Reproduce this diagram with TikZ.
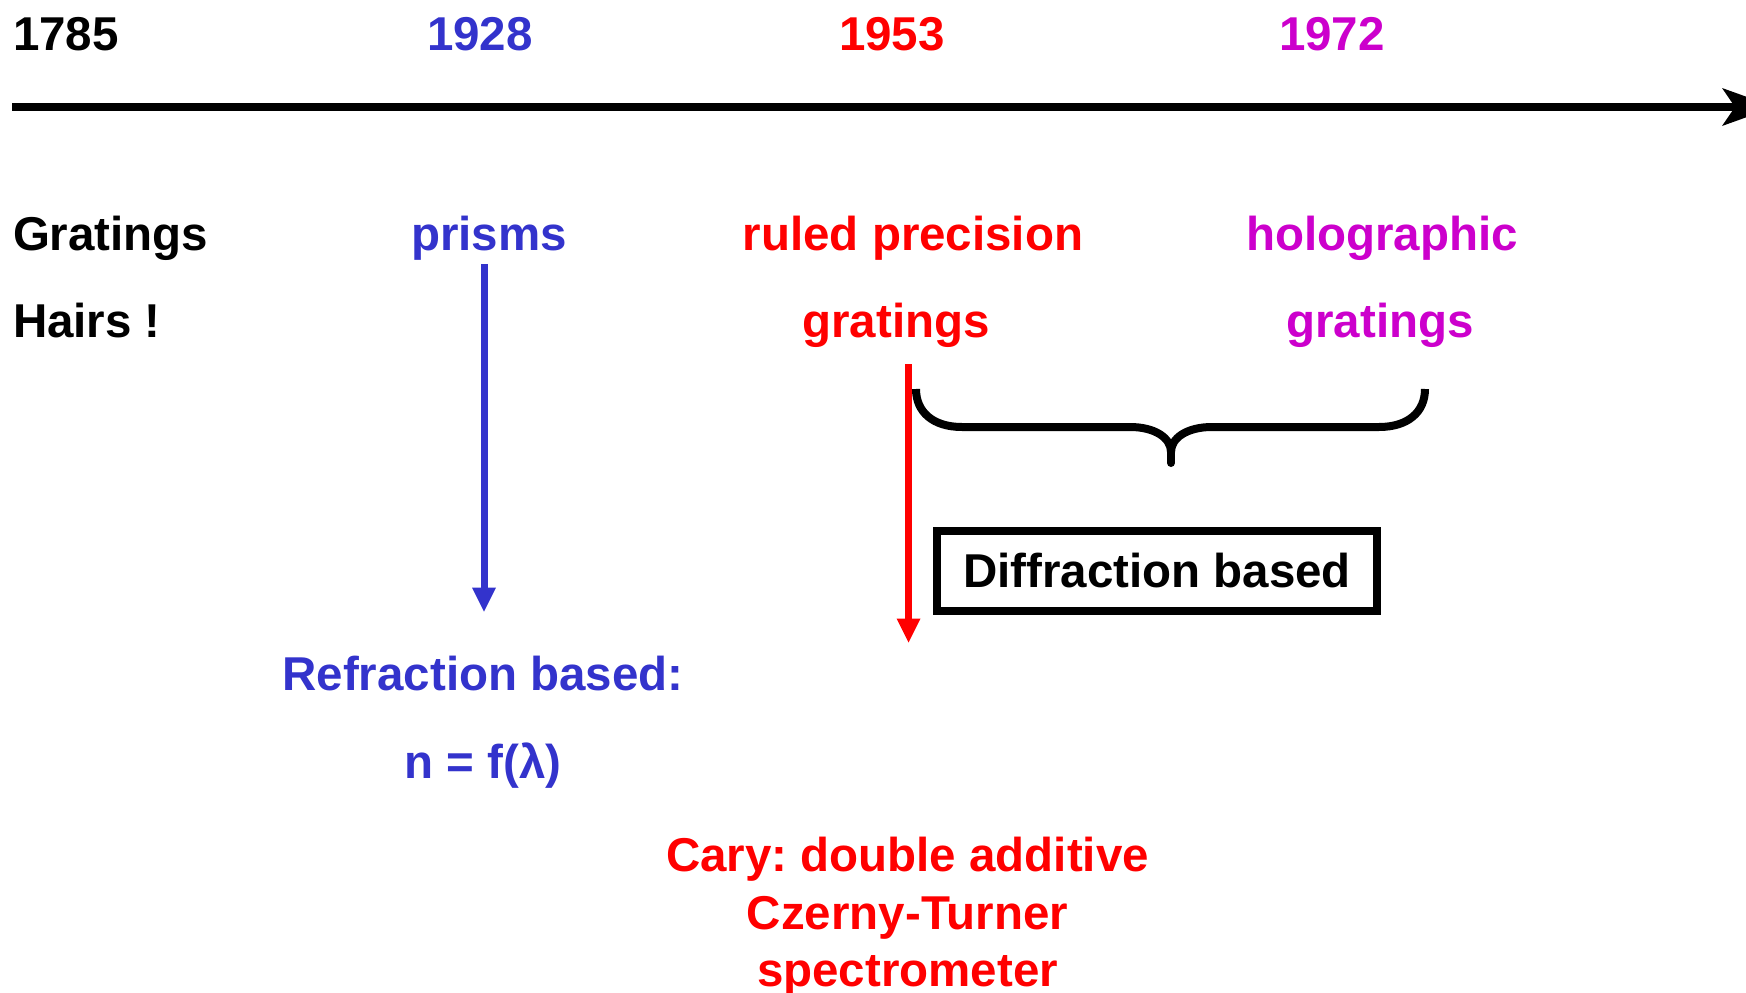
\documentclass[tikz,border=0pt]{standalone}
\usepackage{fontspec}
\setmainfont{Liberation Sans}
\usetikzlibrary{arrows.meta}
\definecolor{cblue}{RGB}{51,51,204}
\definecolor{cred}{RGB}{255,0,0}
\definecolor{cmag}{RGB}{204,0,204}
\frenchspacing
\begin{document}
\begin{tikzpicture}[x=1pt,y=-1pt,
  lbl/.style={font=\fontsize{47.5}{57}\selectfont\bfseries, inner sep=0pt, outer sep=0pt},
  axisline/.style={line width=8pt},
  downarrow/.style={line width=7pt, -{Triangle[length=24pt,width=24pt,line width=0pt]}},
  bracestyle/.style={line width=8pt, line join=round},
  boxstyle/.style={draw, line width=8pt, minimum width=440pt, minimum height=80pt, inner sep=0pt}]
\useasboundingbox (0,0) rectangle (1746,993);
% years
\node[lbl, anchor=base west] (y1785) at (13,50.5) {1785};
\node[lbl, anchor=base, text=cblue] (y1928) at (480,50.5) {1928};
\node[lbl, anchor=base, text=cred] (y1953) at (892,50.5) {1953};
\node[lbl, anchor=base, text=cmag] (y1972) at (1332,50.5) {1972};
% axis (head runs past the page edge, as in the reference)
\coordinate (axs) at (12,107);
\coordinate (axn) at (1735,107);
\coordinate (axe) at (1775,107);
\coordinate (axu) at (1722,88);
\coordinate (axl) at (1722,126);
\draw[axisline] (axs) -- (axn);
\fill (axe) -- (axu) -- (axn) -- (axl) -- cycle;
% row 1
\node[lbl, anchor=base west] (grat) at (13,250) {Gratings};
\node[lbl, anchor=base, text=cblue] (prisms) at (489,250) {prisms};
\node[lbl, anchor=base, text=cred] (ruled) at (913,250) {ruled precision};
\node[lbl, anchor=base, text=cmag] (holo) at (1382,250) {holographic};
% row 2
\node[lbl, anchor=base west] (hairs) at (13,337) {Hairs !};
\node[lbl, anchor=base, text=cred] (rgrat) at (896,337) {gratings};
\node[lbl, anchor=base, text=cmag] (hgrat) at (1380,337) {gratings};
% refraction
\node[lbl, anchor=base, text=cblue] (refr) at (483,690) {Refraction based:};
\node[lbl, anchor=base, text=cblue] (nfl) at (483,778) {n = f(λ)};
% diffraction box
\node[lbl, boxstyle] (diff) at (1157,571) {Diffraction based};
% cary
\node[lbl, anchor=base, text=cred] (cary1) at (907.5,871) {Cary: double additive};
\node[lbl, anchor=base, text=cred] (cary2) at (907.5,929) {Czerny-Turner};
\node[lbl, anchor=base, text=cred] (cary3) at (907.5,986) {spectrometer};
% arrows
\draw[downarrow, cblue] ([xshift=-5pt,yshift=-4pt]prisms.south) -- ([xshift=1pt,yshift=44pt]refr.north);
\coordinate (redend) at (908.6,642.5);
\draw[downarrow, cred] ([xshift=12.6pt,yshift=-17pt]rgrat.south) -- (redend);
% brace
\draw[bracestyle] (916,389) .. controls (916,412) and (933,427) .. (962,427) -- (1130,427)
   .. controls (1155,427) and (1171,438) .. (1171,452);
\draw[bracestyle] (1425,389) .. controls (1425,412) and (1408,427) .. (1379,427) -- (1212,427)
   .. controls (1187,427) and (1171,438) .. (1171,452);
\draw[bracestyle, line cap=round] (1171,448) -- (1171,463);
\end{tikzpicture}
\end{document}
